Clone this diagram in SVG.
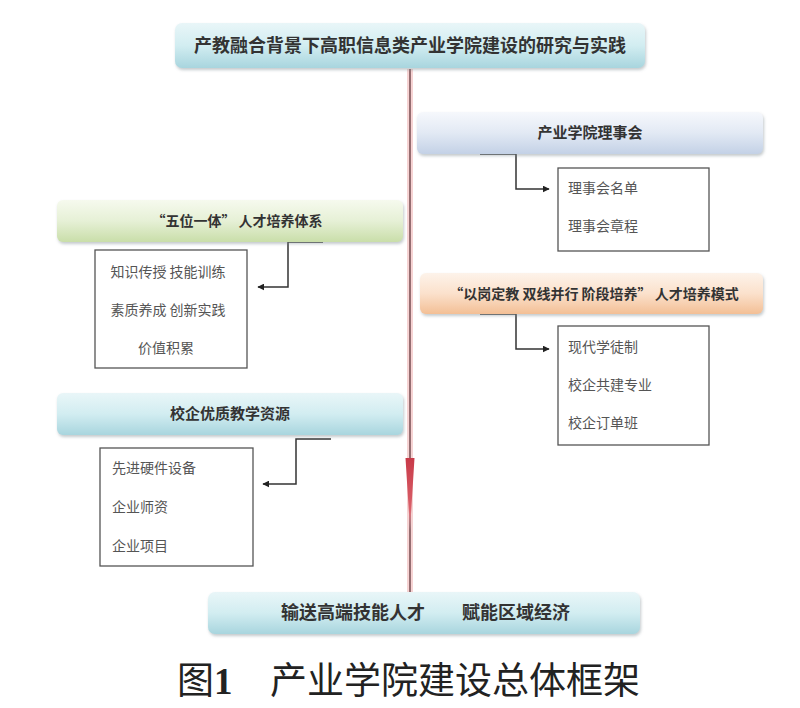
<svg xmlns="http://www.w3.org/2000/svg" width="800" height="708" viewBox="0 0 800 708">
<defs>
<linearGradient id="gCyan" x1="0" y1="0" x2="0" y2="1">
<stop offset="0" stop-color="#e9f6f8"/><stop offset="0.5" stop-color="#d2edf1"/><stop offset="1" stop-color="#a8d5de"/>
</linearGradient>
<linearGradient id="gBlue" x1="0" y1="0" x2="0" y2="1">
<stop offset="0" stop-color="#f6f8fc"/><stop offset="0.5" stop-color="#e2e9f4"/><stop offset="1" stop-color="#c3d1e6"/>
</linearGradient>
<linearGradient id="gGreen" x1="0" y1="0" x2="0" y2="1">
<stop offset="0" stop-color="#f6faee"/><stop offset="0.5" stop-color="#e6f0d6"/><stop offset="1" stop-color="#c9dea9"/>
</linearGradient>
<linearGradient id="gOrange" x1="0" y1="0" x2="0" y2="1">
<stop offset="0" stop-color="#fdf3ea"/><stop offset="0.5" stop-color="#fbe1cc"/><stop offset="1" stop-color="#f3bf95"/>
</linearGradient>
<linearGradient id="gRed" x1="0" y1="0" x2="0" y2="1">
<stop offset="0" stop-color="#c83a48"/><stop offset="0.7" stop-color="#d9606a"/><stop offset="1" stop-color="#c9a0a8"/>
</linearGradient>
<filter id="sh" x="-5%" y="-20%" width="110%" height="150%">
<feDropShadow dx="1" dy="2" stdDeviation="1.5" flood-color="#7a8a90" flood-opacity="0.45"/>
</filter>
<marker id="ah" viewBox="0 0 10 10" refX="9" refY="5" markerWidth="7" markerHeight="7" markerUnits="userSpaceOnUse" orient="auto">
<path d="M0,0 L10,5 L0,10 z" fill="#222"/>
</marker>
<style>
.hdr{font-family:"Noto Sans CJK SC","Liberation Sans",sans-serif;font-weight:bold;fill:#333;text-anchor:middle}
.item{font-family:"Noto Sans CJK SC","Liberation Sans",sans-serif;fill:#555;font-size:14px}
.box{fill:#fff;stroke:#555;stroke-width:1.3}
.conn{fill:none;stroke:#333;stroke-width:1.5}
</style>
</defs>
<rect width="800" height="708" fill="#fff"/>

<g id="connectors">
<line x1="410" y1="69" x2="410" y2="592" stroke="#f6d3d3" stroke-width="6"/>
<line x1="410" y1="69" x2="410" y2="592" stroke="#7d5458" stroke-width="1.6"/>
<polygon points="405.5,458 414.5,458 410,530" fill="url(#gRed)"/>
<path class="conn" d="M480,154 H516 V189 H549" marker-end="url(#ah)"/>
<path class="conn" d="M323,242 H288 V287 H258" marker-end="url(#ah)"/>
<path class="conn" d="M480,314 H516 V349 H549" marker-end="url(#ah)"/>
<path class="conn" d="M331,439 H296 V484 H263" marker-end="url(#ah)"/>
</g>

<g id="title">
<rect x="175" y="23" width="470" height="45" rx="7" fill="url(#gCyan)" filter="url(#sh)"/>
<text class="hdr" x="410" y="52" font-size="18">产教融合背景下高职信息类产业学院建设的研究与实践</text>
</g>

<g id="council">
<rect x="417" y="112" width="346" height="42" rx="6" fill="url(#gBlue)" filter="url(#sh)"/>
<text class="hdr" x="590" y="138" font-size="15">产业学院理事会</text>
</g>
<g id="council-list">
<rect class="box" x="558" y="168" width="151" height="83"/>
<text class="item" x="568" y="193">理事会名单</text>
<text class="item" x="568" y="231">理事会章程</text>
</g>

<g id="fiveinone">
<rect x="57" y="200" width="346" height="42" rx="6" fill="url(#gGreen)" filter="url(#sh)"/>
<text class="hdr" x="237" y="226" font-size="14">“五位一体” 人才培养体系</text>
</g>
<g id="fiveinone-list">
<rect class="box" x="95" y="250" width="152" height="118"/>
<text class="item" x="168" y="277" text-anchor="middle">知识传授 技能训练</text>
<text class="item" x="168" y="315" text-anchor="middle">素质养成 创新实践</text>
<text class="item" x="166" y="353" text-anchor="middle">价值积累</text>
</g>

<g id="mode">
<rect x="420" y="273" width="343" height="41" rx="6" fill="url(#gOrange)" filter="url(#sh)"/>
<text class="hdr" x="594" y="299" font-size="14">“以岗定教 双线并行 阶段培养” 人才培养模式</text>
</g>
<g id="mode-list">
<rect class="box" x="558" y="326" width="151" height="119"/>
<text class="item" x="568" y="352">现代学徒制</text>
<text class="item" x="568" y="390">校企共建专业</text>
<text class="item" x="568" y="428">校企订单班</text>
</g>

<g id="resources">
<rect x="57" y="393" width="346" height="42" rx="6" fill="url(#gCyan)" filter="url(#sh)"/>
<text class="hdr" x="230" y="419" font-size="15">校企优质教学资源</text>
</g>
<g id="resources-list">
<rect class="box" x="100" y="448" width="153" height="118"/>
<text class="item" x="112" y="473">先进硬件设备</text>
<text class="item" x="112" y="512">企业师资</text>
<text class="item" x="112" y="551">企业项目</text>
</g>

<g id="output">
<rect x="208" y="592" width="432" height="42" rx="7" fill="url(#gCyan)" filter="url(#sh)"/>
<text class="hdr" x="410" y="619" font-size="18"><tspan x="353">输送高端技能人才</tspan><tspan x="516">赋能区域经济</tspan></text>
</g>

<text x="177" y="694" font-family="Noto Sans CJK SC,Liberation Sans,sans-serif" font-size="37" fill="#222">图<tspan font-family="Liberation Serif,serif" font-weight="bold">1</tspan><tspan x="270">产业学院建设总体框架</tspan></text>
</svg>
